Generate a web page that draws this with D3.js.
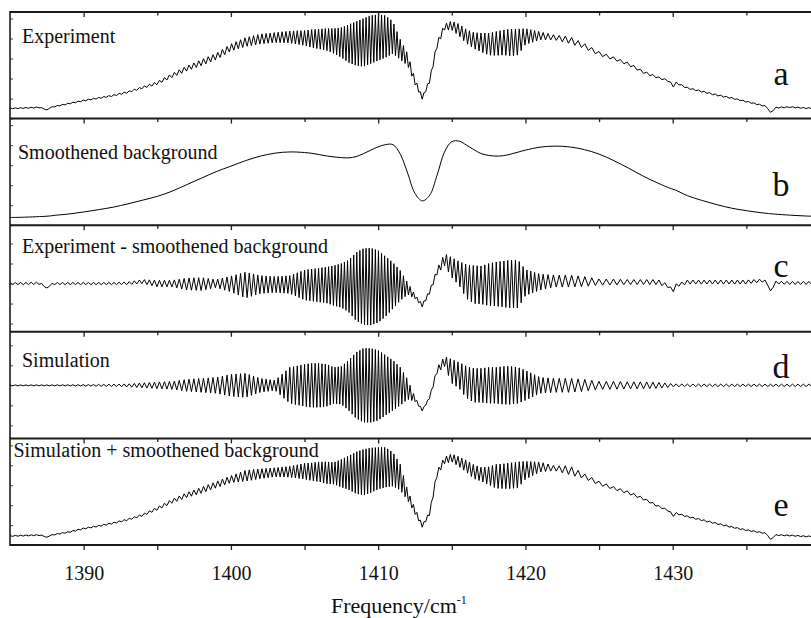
<!DOCTYPE html>
<html>
<head>
<meta charset="utf-8">
<script src="https://cdn.jsdelivr.net/npm/d3@7"></script>
<style>
  html, body { margin: 0; padding: 0; background: #fff; }
  svg { display: block; }
  text { font-family: "Liberation Serif", "Times New Roman", Times, serif; fill: #111; }
</style>
</head>
<body>
<svg id="chart" width="811" height="618"></svg>
<script>
// Frequency grid (cm^-1) shared by every series below
const freq = [1385,1386,1387,1387.3,1387.5,1387.7,1388,1389,1390,1391,1392,1393,1394,1395,1396,1397,1398,1399,1400,1401,1402,1403,1404,1405,1405.5,1406,1406.5,1407,1407.5,1408,1408.5,1409,1409.5,1410,1410.5,1411,1411.5,1412,1412.5,1413,1413.5,1414,1414.5,1415,1415.5,1416,1416.5,1417,1417.5,1418,1418.5,1419,1419.5,1420,1421,1422,1423,1424,1425,1426,1427,1428,1429,1429.8,1430,1430.2,1431,1432,1433,1434,1435,1436,1436.4,1436.6,1436.8,1437,1438,1439,1440];

// (b) smoothened background
const background = [7.7,8.0,8.6,8.8,9.0,9.2,9.8,11.2,13.2,15.5,18,21.3,25,28.8,34,40.5,47,53.5,59,64.5,69,72,73.2,72.6,71.8,70.5,69.2,68.2,67.5,67.3,68.5,71.5,75,78.3,80.5,80.5,71,52,31.7,24.3,30,50,73,83.5,84,80,75.5,71.5,69.8,69,69.5,71,73,75,78,79,78.2,75.5,71,64.5,57,49,42,37,36,35,29.5,24.7,20.5,17,14.5,12.5,11.8,11.5,11.2,11,10,9.2,8.8];

// (a) experiment: band centre line and rotational-structure half amplitude
const expCenter = [10.2,10.6,11.2,10,8.5,10.8,12,15,18,20.5,23,26.5,31,35.5,43,50,56,62,71,76.5,79.5,81,81.5,80.5,80,79.5,79,77.5,76,75,75,76,79,81,82,81,69,59,37,20.5,38,74,91.5,93,88.5,82,78,76,74.5,75,76,76,76.5,82,82.7,81,78.5,72.5,65,60,54.5,46.5,41,37.5,31,36,30.5,27,23.5,20.5,17,13.5,12,5.5,8,11,11.5,10.5,10.2];
const expSwing = [0.4,0.5,0.5,0.3,0.2,0.3,0.5,0.5,0.6,0.6,0.7,0.8,1.1,1.5,2,2.5,3,3.2,3.5,4.5,5,5,6,7.5,9,10,11,12.5,15,19,22,24,24,23,21,16,10,6,3,1.5,2,3,3,4.5,6,7,8,9.5,11,12,12.5,13.5,13,8,4,2.5,3.5,2.5,2,1.5,1.5,1.3,1,0.8,0.5,0.8,0.7,0.7,0.7,0.6,0.6,0.5,0.5,0.3,0.3,0.5,0.5,0.5,0.5];

// (c) experiment minus smoothened background
const resCenter = [0,0,0.3,-2,-5,-1.5,0,0,0,0,0,0.3,2,0,0,-0.5,-0.5,0,-0.5,-1.5,-1,-1,-1,-1.5,-1.5,-1.5,-1.5,-2,-2,-2.5,-3,-3,-3,-3,-3,-2,-2,-5,-13,-22,-8,12,24,16,10,2,-1,-1.5,-1,-0.5,-0.5,-0.5,-0.5,1,1.5,2.5,2.5,2,1.5,1.5,1.5,1.5,1.5,-3,-9,-2,1.5,1.5,1.5,1.5,1.5,3,2,-9,-3,1,0.6,0.6,0.6];
const resSwing = [1.1,1.1,1.1,0.8,0.5,0.8,1.1,1.1,1.1,1.1,1.1,1.4,2,3.3,3.3,6,6.5,4,8,13,9,8,9,15,16,17,18,20,22,26,34,38,38.5,36,30,23,15,6,2,1.5,2,3,6,10,12,17,19,19,21,22,23,24,24,13,8,6,6,5,3,3,2.5,2.5,2.5,1.5,0.5,1.5,2,2,2,2,2,1.5,1,0.5,1,1.5,1.5,1.5,1.5];

// (d) simulation
const simCenter = [0,0,0,0,0,0,0,0,0,0,0,0,0,0,0,0,0,0,0,0,0,0,0,0,0,0,0,0,0,0,0,0,0,0,0,0,-1,-4,-14,-25,-12,15,24,14,10,3,0,0,0,0,0,0,0,0,0,0,0,0,0,0,0,0,0,0,0,0,0,0,0,0,0,0,0,0,0,0,0,0,0];
const simSwing = [0.4,0.4,0.5,0.5,0.5,0.5,0.5,0.6,0.7,0.9,1.2,1.5,2.5,3.3,4,6,7,8,11,12,7,5,18,21,22,22,21,18,19,25,33,37,37,35,30,25,19,10,2,0.8,1,3,5,12,13,16,17,17,18,18,19,19,18,15,8,7,7,6,4,4,3.5,3.5,3,2,1.5,1.5,1.3,1.3,1.3,1.2,1.2,1.2,1.2,1.2,1.2,1.2,1.2,1.2,1.2];

// (e) simulation plus smoothened background
const sumCenter = [9,9.5,10,9,7.5,9.5,10.5,13,16.5,19,22,25.5,30,36.5,44,50,55,60.5,66,69.5,71.5,73,73.5,74,73.5,73.5,72.5,72,72,72.5,72.5,73,75,77,78,76,68,50,34,19,32,72,85,87.5,83.5,79,73.5,71,69.5,69,69,69.5,70.5,75,78.3,77,75,69,62,57,52.5,46.5,39,34,28.5,32,28.5,25,21.5,18,15,12.5,11.5,5,7.5,10,9.5,8.7,8.3];
const sumSwing = [0.4,0.5,0.5,0.3,0.2,0.3,0.5,0.5,0.6,0.6,0.7,0.8,1.1,1.5,2,2.5,3,3.2,3.5,5.5,5,4.5,5.5,8,9,10,11,11,14,17,21,23,22.5,21,20,17,13,5,3,1.5,2,3,3.5,4,5,6,7,7,9,12,12.5,13,13,9,5,2.5,4.5,2.5,2,1.5,1.5,1.2,1,0.8,0.5,0.8,0.7,0.7,0.7,0.6,0.6,0.5,0.5,0.3,0.3,0.5,0.5,0.5,0.5];

// spacing of the rotational lines across the band (cm^-1)
const periodFreq = [1385, 1395, 1399, 1403, 1407.5, 1411, 1414, 1420.5, 1422, 1425, 1430, 1440];
const periodWidth = [0.36, 0.34, 0.32, 0.27, 0.21, 0.21, 0.26, 0.26, 0.40, 0.50, 0.38, 0.37];

const xTicks = [1390, 1400, 1410, 1420, 1430];
const xMinorTicks = [1395, 1405, 1415, 1425, 1435];

const panels = [
  { letter: "a", title: "Experiment", center: expCenter, swing: expSwing, domain: [0, 106.5], tx: 22, ty: 42.7 },
  { letter: "b", title: "Smoothened background", center: background, swing: null, domain: [0, 106.5], tx: 18, ty: 159 },
  { letter: "c", title: "Experiment - smoothened background", center: resCenter, swing: resSwing, domain: [-48.2, 58.3], tx: 22, ty: 253 },
  { letter: "d", title: "Simulation", center: simCenter, swing: simSwing, domain: [-53, 53.5], tx: 22, ty: 366.7 },
  { letter: "e", title: "Simulation + smoothened background", center: sumCenter, swing: sumSwing, domain: [0, 107], tx: 13.5, ty: 457 }
];
const letterY = [85, 196, 277, 378, 516];

const svg = d3.select("#chart");
const W = 811, H = 618;
const plotLeft = 10, plotRight = 820, plotTop = 12, plotBottom = 545;
const panelH = (plotBottom - plotTop) / panels.length;

const x = d3.scaleLinear().domain([1385, 1440]).range([plotLeft, plotRight]);
const periodAt = d3.scaleLinear().domain(periodFreq).range(periodWidth).clamp(true);

// zig-zag through the rotational lines: alternate above / below the centre line
function spectrum(center, swing) {
  const c = d3.scaleLinear().domain(freq).range(center);
  const s = d3.scaleLinear().domain(freq).range(swing);
  const pts = [];
  let f = freq[0], k = 0;
  const end = freq[freq.length - 1];
  while (f <= end) {
    pts.push([f, c(f) + (k % 2 ? -1 : 1) * s(f)]);
    f += periodAt(f) / 2;
    k++;
  }
  return pts;
}

svg.append("defs").append("clipPath").attr("id", "plotClip")
  .append("rect").attr("x", plotLeft).attr("y", plotTop).attr("width", W - plotLeft).attr("height", plotBottom - plotTop);

panels.forEach((p, i) => {
  const top = plotTop + i * panelH;
  const bottom = top + panelH;
  const y = d3.scaleLinear().domain(p.domain).range([bottom, top]);
  const g = svg.append("g");

  let pts, line;
  if (p.swing) {
    pts = spectrum(p.center, p.swing);
    line = d3.line().x(d => x(d[0])).y(d => y(d[1]));
  } else {
    pts = freq.map((f, j) => [f, p.center[j]]);
    line = d3.line().x(d => x(d[0])).y(d => y(d[1])).curve(d3.curveCatmullRom.alpha(0.5));
  }
  g.append("path")
    .attr("clip-path", "url(#plotClip)")
    .attr("d", line(pts))
    .attr("fill", "none")
    .attr("stroke", "#000")
    .attr("stroke-width", 1)
    .attr("stroke-linejoin", "round");

  g.append("text").attr("x", p.tx).attr("y", p.ty)
    .attr("font-size", 20).text(p.title);
  g.append("text").attr("x", 781).attr("y", letterY[i])
    .attr("text-anchor", "middle").attr("font-size", 34).text(p.letter);

  // short ticks on the left frame of each panel
  const leftAxis = d3.axisRight(y).ticks(6).tickSize(3).tickFormat("");
  const lx = svg.append("g").attr("transform", `translate(${plotLeft},0)`).call(leftAxis);
  lx.select(".domain").remove();
  lx.selectAll(".tick line").attr("stroke", "#444").attr("stroke-width", 1);

  // top edge of each panel with downward ticks
  const topAxis = d3.axisBottom(x).tickValues(xTicks.concat(xMinorTicks)).tickSize(4).tickFormat("");
  const ax = svg.append("g").attr("transform", `translate(0,${top})`).call(topAxis);
  ax.select(".domain").remove();
  ax.selectAll(".tick line").attr("stroke", "#222").attr("stroke-width", 1.3)
    .attr("y2", d => xTicks.includes(d) ? 5 : 3.5);
  svg.append("line").attr("x1", plotLeft).attr("x2", W).attr("y1", top).attr("y2", top)
    .attr("stroke", "#1a1a1a").attr("stroke-width", 2);
});

// bottom frequency axis
const bottomAxis = d3.axisBottom(x).tickValues(xTicks.concat(xMinorTicks)).tickSize(5).tickPadding(16)
  .tickFormat(d => xTicks.includes(d) ? d : "");
const bx = svg.append("g").attr("transform", `translate(0,${plotBottom})`).call(bottomAxis);
bx.attr("font-family", null);
bx.select(".domain").remove();
bx.selectAll(".tick line").attr("stroke", "#222").attr("stroke-width", 1.3);
bx.selectAll(".tick text").attr("font-size", 20).attr("fill", "#111");
svg.append("line").attr("x1", plotLeft).attr("x2", W).attr("y1", plotBottom).attr("y2", plotBottom)
  .attr("stroke", "#1a1a1a").attr("stroke-width", 2);

// left frame
svg.append("line").attr("x1", plotLeft).attr("x2", plotLeft).attr("y1", plotTop - 1).attr("y2", plotBottom + 1)
  .attr("stroke", "#1a1a1a").attr("stroke-width", 1.6);

// axis title
const xt = svg.append("text").attr("x", 331).attr("y", 613).attr("font-size", 22);
xt.append("tspan").text("Frequency/cm");
xt.append("tspan").attr("dy", -9).attr("font-size", 12).text("-1");
</script>
</body>
</html>
